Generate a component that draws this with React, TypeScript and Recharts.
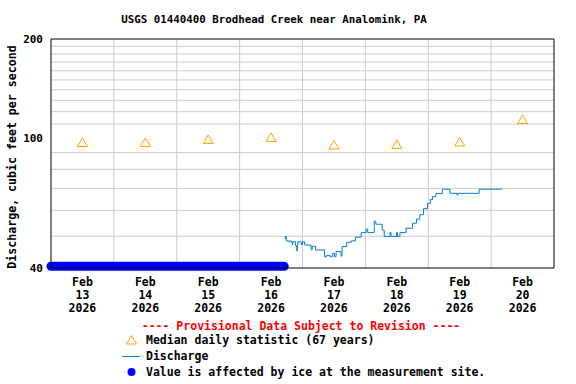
import { ComposedChart, Line, Scatter, XAxis, YAxis, ReferenceLine } from 'recharts'

// hours counted from Feb 13 2026 00:00
const dayLabels = ['13', '14', '15', '16', '17', '18', '19', '20']
const labelHours = [12, 36, 60, 84, 108, 132, 156, 180]
const midnightHours = [24, 48, 72, 96, 120, 144, 168]
const flowGrid = [50, 60, 70, 80, 90, 110, 120, 130, 140, 150, 160, 170, 180, 190]
const yTicks = [40, 100, 200]

const medianHours = [12, 36, 60, 84, 108, 132, 156, 180]
const medianValues = [96.6, 96.6, 98.7, 100.1, 94.9, 95.3, 97.0, 113.6]

const dischargeHours = [
  89.0, 89.5, 89.8, 90.8, 91.2, 91.6, 92.1, 92.3, 93.3, 93.8, 94.0, 94.2, 95.1, 95.5, 96.0,
  96.4, 96.8, 97.1, 98.9, 99.3, 99.7, 101.0, 104.4, 105.2, 106.5, 107.5, 108.2, 108.8, 110.7,
  111.1, 112.9, 114.6, 116.2, 118.4, 120.3, 120.9, 123.0, 123.4, 124.0, 124.7, 126.4, 127.2,
  129.4, 129.8, 131.9, 132.3, 133.2, 135.5, 138.0, 139.5, 140.8, 142.2, 143.7, 144.8, 145.6,
  146.9, 149.4, 152.3, 155.0, 155.3, 163.4, 172.1,
]
const dischargeValues = [
  49.3, 50.0, 48.4, 48.1, 48.4, 48.1, 47.1, 48.1, 46.8, 45.1, 47.0, 48.1, 48.1, 47.1, 48.1,
  48.1, 47.1, 47.0, 47.0, 45.4, 46.6, 45.4, 43.3, 43.7, 43.3, 44.3, 43.3, 44.9, 43.5,
  46.5, 47.9, 48.4, 49.7, 51.3, 52.6, 51.3, 51.3, 55.6, 54.4, 54.4, 52.2, 49.9,
  51.3, 49.9, 51.3, 49.9, 51.3, 52.9, 54.8, 56.4, 58.2, 60.7, 62.9, 64.7, 66.0,
  67.5, 69.6, 67.6, 66.8, 67.6, 69.6, 69.6,
]

// ice-affected period, plotted at the bottom of the graph
const iceHours = [0, 89]
const iceValues = [40.5, 40.5]

const medianData = medianHours.map((t, i) => ({ t, q: medianValues[i] }))
const dischargeData = dischargeHours.map((t, i) => ({ t, q: dischargeValues[i] }))
const iceData = iceHours.map((t, i) => ({ t, q: iceValues[i] }))

const FONT = '"DejaVu Sans Mono", monospace'
const GRID = '#cccccc'
const ORANGE = '#ffa500'
const BLUE_LINE = '#0a7fcf'

function Triangle(props: any) {
  const { cx, cy } = props
  return (
    <path
      d={`M${cx},${cy - 4.5} L${cx + 5},${cy + 4} L${cx - 5},${cy + 4} Z`}
      fill="none"
      stroke={ORANGE}
      strokeWidth={1}
    />
  )
}

function DayTick(props: any) {
  const { x, y, payload } = props
  const day = dayLabels[labelHours.indexOf(payload.value)]
  return (
    <text x={x} y={y} textAnchor="middle" fontFamily={FONT} fontWeight="bold" fontSize={11.5} fill="#000">
      <tspan x={x} dy={10}>Feb</tspan>
      <tspan x={x} dy={13}>{day}</tspan>
      <tspan x={x} dy={13}>2026</tspan>
    </text>
  )
}

export default function App() {
  return (
    <div
      style={{
        position: 'absolute',
        left: 0,
        top: 0,
        width: 576,
        height: 384,
        background: '#fff',
        fontFamily: FONT,
        fontWeight: 'bold',
        fontSize: 11.5,
        color: '#000',
      }}
    >
      <div style={{ position: 'absolute', left: 0, top: 13, width: 548, textAlign: 'center', fontSize: 10.8 }}>
        USGS 01440400 Brodhead Creek near Analomink, PA
      </div>
      <div
        style={{
          position: 'absolute',
          left: 12 - 130,
          top: 150,
          width: 260,
          textAlign: 'center',
          transform: 'rotate(-90deg)',
          fontSize: 11.6,
        }}
      >
        Discharge, cubic feet per second
      </div>
      <ComposedChart width={576} height={384} margin={{ top: 39, right: 22, bottom: 56, left: 0 }}>
        <XAxis
          type="number"
          dataKey="t"
          domain={[0, 192]}
          ticks={labelHours}
          tick={<DayTick />}
          tickLine={false}
          axisLine={{ stroke: '#000' }}
          height={60}
        />
        <YAxis
          type="number"
          dataKey="q"
          scale="log"
          domain={[40, 200]}
          ticks={yTicks}
          tickLine={false}
          tickSize={6}
          axisLine={{ stroke: '#000' }}
          width={51}
          tick={{ fill: '#000', fontSize: 11, fontFamily: FONT, fontWeight: 'bold' }}
        />
        {midnightHours.map((h) => (
          <ReferenceLine key={'v' + h} x={h} stroke={GRID} />
        ))}
        {flowGrid.map((v) => (
          <ReferenceLine key={'h' + v} y={v} stroke={GRID} />
        ))}
        <ReferenceLine y={200} stroke="#000" />
        <ReferenceLine x={192} stroke="#000" />
        <Line
          data={dischargeData}
          dataKey="q"
          type="stepAfter"
          stroke={BLUE_LINE}
          strokeWidth={1}
          dot={false}
          isAnimationActive={false}
        />
        <Line
          data={iceData}
          dataKey="q"
          type="linear"
          stroke="#0000ff"
          strokeWidth={9}
          strokeLinecap="round"
          dot={false}
          isAnimationActive={false}
        />
        <Scatter data={medianData} dataKey="q" shape={<Triangle />} isAnimationActive={false} />
      </ComposedChart>
      <div style={{ position: 'absolute', left: 0, top: 319, width: 602, textAlign: 'center', color: '#ff0000' }}>
        ---- Provisional Data Subject to Revision ----
      </div>
      <svg style={{ position: 'absolute', left: 120, top: 332 }} width={24} height={48}>
        <path d="M11.5,3.5 L16.5,12 L6.5,12 Z" fill="none" stroke={ORANGE} />
        <line x1={2} x2={20} y1={24.5} y2={24.5} stroke={BLUE_LINE} />
        <circle cx={11.5} cy={40} r={4} fill="#0000ff" />
      </svg>
      <div style={{ position: 'absolute', left: 146, top: 333 }}>Median daily statistic (67 years)</div>
      <div style={{ position: 'absolute', left: 146, top: 349 }}>Discharge</div>
      <div style={{ position: 'absolute', left: 146, top: 365 }}>Value is affected by ice at the measurement site.</div>
    </div>
  )
}
